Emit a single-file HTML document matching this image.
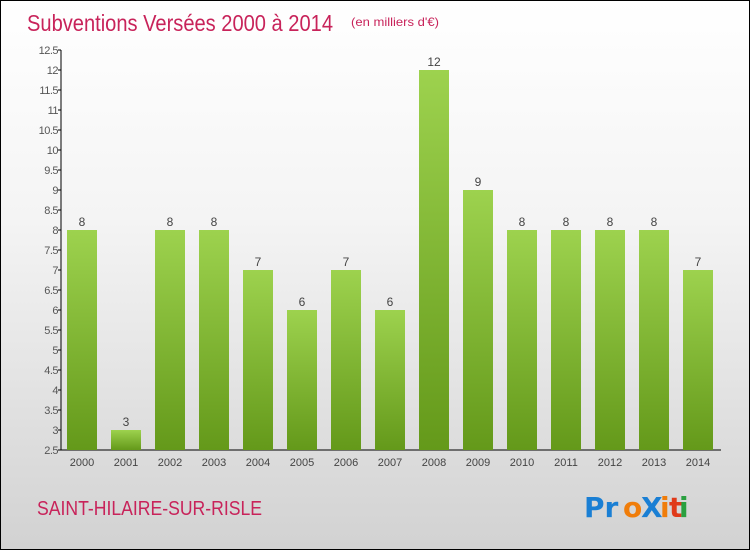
<!DOCTYPE html>
<html><head><meta charset="utf-8"><style>
body{margin:0}
#c{width:748px;height:548px;border:1px solid #000;position:relative;overflow:hidden;background:linear-gradient(#ffffff 0%,#f4f4f4 40%,#d2d2d2 100%);font-family:"Liberation Sans",sans-serif}
</style></head><body>
<div id="c">
<svg id="s" width="748" height="548" viewBox="0 0 748 548" xmlns="http://www.w3.org/2000/svg">
<defs><linearGradient id="g" x1="0" y1="0" x2="0" y2="1"><stop offset="0" stop-color="#9dd24e"/><stop offset="1" stop-color="#64991a"/></linearGradient></defs>
<text x="26" y="30" font-size="23" fill="#c8235a" font-family="Liberation Sans,sans-serif" textLength="306" lengthAdjust="spacingAndGlyphs">Subventions Versées 2000 à 2014</text>
<text x="350" y="25" font-size="12" fill="#c8235a" textLength="88" lengthAdjust="spacingAndGlyphs">(en milliers d'€)</text>
<text x="36" y="514" font-size="20" fill="#c8235a" textLength="225" lengthAdjust="spacingAndGlyphs">SAINT-HILAIRE-SUR-RISLE</text>
<g font-size="28" font-weight="bold" font-family="DejaVu Sans,sans-serif">
<text x="583" y="516" fill="#1a7fd4">Pr</text><text x="622" y="516" fill="#f07d0a">o</text><text x="640" y="516" fill="#1a7fd4">X</text><text x="659" y="516" fill="#f07d0a">i</text><text x="668" y="516" fill="#e03a1a">t</text><text x="678" y="516" fill="#2aa040">i</text>
</g>
<g id="plot"></g>
</svg>
</div>
<script>
const years=["2000","2001","2002","2003","2004","2005","2006","2007","2008","2009","2010","2011","2012","2013","2014"];
const values=[8,3,8,8,7,6,7,6,12,9,8,8,8,8,7];
const yTicks=[2.5,3,3.5,4,4.5,5,5.5,6,6.5,7,7.5,8,8.5,9,9.5,10,10.5,11,11.5,12,12.5];
const NS="http://www.w3.org/2000/svg";
const g=document.getElementById('plot');
const y=v=>449-(v-2.5)*40;
const x=i=>81+i*44;
function el(t,a){const e=document.createElementNS(NS,t);for(const k in a)e.setAttribute(k,a[k]);g.appendChild(e);return e;}
let ax=el('line',{x1:60,y1:49,x2:60,y2:449,stroke:'#000'});


let xa=el('line',{x1:60,y1:449,x2:720,y2:449,stroke:'#000'});


yTicks.forEach(v=>{
 const t=el('line',{x1:57,x2:60,y1:y(v),y2:y(v),stroke:'#000'});
 
 
 const l=el('text',{x:57,y:y(v)+4,'font-size':11,fill:'#555','text-anchor':'end','letter-spacing':'-0.5'});
 l.textContent=String(v);
 
 
});
years.forEach((yr,i)=>{
 const v=values[i];
 const b=el('rect',{x:x(i)-15,y:y(v),width:30,height:449-y(v),fill:'url(#g)'});
 
 
 const vl=el('text',{x:x(i),y:y(v)-4,'font-size':12,fill:'#444','text-anchor':'middle'});
 vl.textContent=String(v);
 
 
 const xl=el('text',{x:x(i),y:465,'font-size':11,fill:'#444','text-anchor':'middle'});
 xl.textContent=yr;
 
 
});
</script>
</body></html>
